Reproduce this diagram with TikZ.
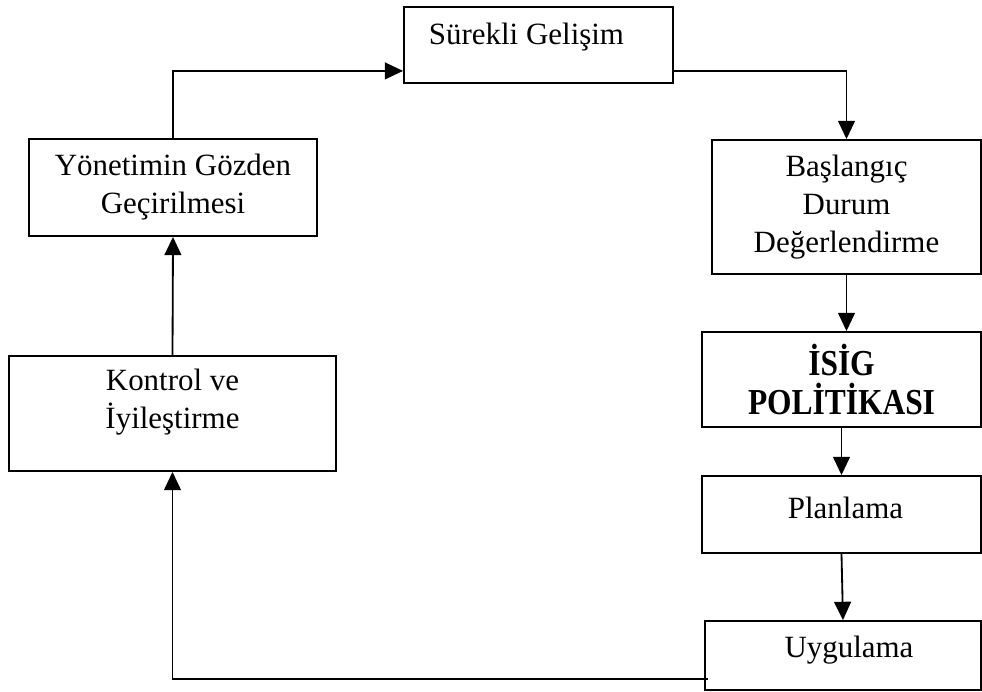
\documentclass[tikz,border=0pt]{standalone}
\usepackage{fontspec}
\setmainfont{Liberation Serif}[BoldFont={Liberation Serif Bold}]
\usetikzlibrary{arrows.meta}

\begin{document}
\begin{tikzpicture}[x=0.025cm, y=-0.025cm,
  box/.style={draw, line width=1.3pt, rectangle, inner sep=0pt, align=center, font=\fontsize{22}{27}\selectfont},
  txt/.style={align=center, inner sep=0pt, font=\fontsize{22}{27}\selectfont},
  arr/.style={line width=1.3pt, -{Triangle[length=13pt,width=12pt]}}]

	% fixing the size of the picture
	\useasboundingbox (0,0) rectangle (982,692);

	% the boxes of the cycle (text of some boxes sits high, so it is a label)
	\node[box, minimum width=6.725cm, minimum height=1.9cm,
	      label={[txt, xshift=-0.3cm, yshift=0.2cm]center:Sürekli Gelişim}] (surekli) at (538.5,45) {};
	\node[box, minimum width=6.725cm, minimum height=3.35cm] (baslangic) at (846.5,207) {Başlangıç\\Durum\\Değerlendirme};
	\node[box, minimum width=6.975cm, minimum height=2.375cm,
	      font=\fontsize{26}{28}\selectfont\bfseries\addfontfeature{FakeStretch=0.86}] (isig) at (841.5,379.5) {İSİG\\POLİTİKASI};
	\node[box, minimum width=6.975cm, minimum height=1.925cm,
	      label={[txt, xshift=0.1cm, yshift=0.175cm]center:Planlama}] (planlama) at (841.5,514.5) {};
	\node[box, minimum width=6.9cm, minimum height=1.725cm,
	      label={[txt, xshift=0.15cm, yshift=0.125cm]center:Uygulama}] (uygulama) at (843,655.5) {};
	\node[box, minimum width=8.175cm, minimum height=2.875cm,
	      label={[txt, yshift=0.275cm]center:Kontrol ve\\İyileştirme}] (kontrol) at (172.5,413.5) {};
	\node[box, minimum width=7.2cm, minimum height=2.425cm] (yonetim) at (173,187.5) {Yönetimin Gözden\\Geçirilmesi};

	% the connectors, going round
	\draw[arr] ([yshift=0.325cm]surekli.south east) -| (baslangic.north);
	\draw[arr] (baslangic.south) -- (baslangic.south |- isig.north);
	\draw[arr] (isig.south) -- (planlama.north);
	\draw[arr] (planlama.south) -- (uygulama.north);
	\draw[arr] ([xshift=0.1cm, yshift=0.3cm]uygulama.south west) -| (kontrol.south);
	\draw[arr] (kontrol.north) -- (yonetim.south);
	\draw[arr] (yonetim.north) |- ([yshift=0.325cm]surekli.south west);

\end{tikzpicture}
\end{document}
